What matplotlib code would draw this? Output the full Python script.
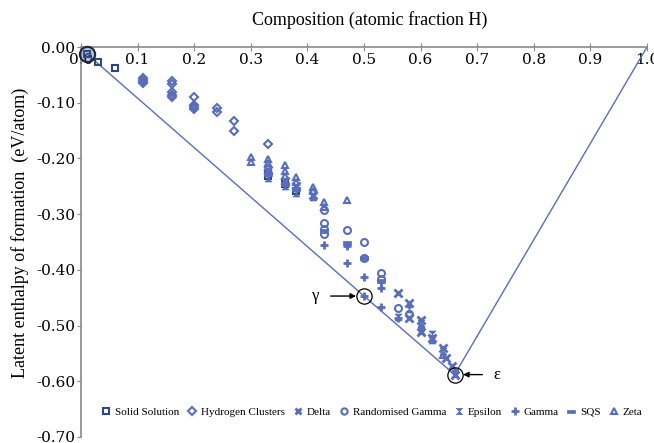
import numpy as np
import matplotlib
matplotlib.use('Agg')
import matplotlib.pyplot as plt
from matplotlib.path import Path

plt.rcParams['font.family'] = 'Liberation Serif'

# calculated formation enthalpies, grouped by structure type
solid_x = [0.01, 0.03, 0.06, 0.33, 0.33, 0.36, 0.38]
solid_y = [-0.012, -0.027, -0.038, -0.226, -0.232, -0.245, -0.258]

hydro_x = [0.11, 0.11, 0.11, 0.11, 0.16, 0.16, 0.16, 0.16, 0.16,
           0.20, 0.20, 0.20, 0.20, 0.24, 0.24, 0.27, 0.27, 0.33]
hydro_y = [-0.056, -0.059, -0.062, -0.065, -0.061, -0.066, -0.081, -0.086, -0.090,
           -0.089, -0.104, -0.108, -0.112, -0.110, -0.117, -0.132, -0.150, -0.174]

delta_x = [0.33, 0.36, 0.38, 0.41, 0.56, 0.58, 0.58, 0.60, 0.60, 0.62, 0.64, 0.645, 0.655, 0.66]
delta_y = [-0.220, -0.240, -0.250, -0.265, -0.441, -0.459, -0.487, -0.490, -0.512,
           -0.523, -0.541, -0.559, -0.573, -0.588]

rgam_x = [0.43, 0.43, 0.43, 0.43, 0.47, 0.50, 0.50, 0.53, 0.53, 0.56, 0.58]
rgam_y = [-0.292, -0.316, -0.326, -0.336, -0.328, -0.350, -0.378, -0.405, -0.416, -0.468, -0.479]

eps_x = [0.33, 0.36, 0.38, 0.41, 0.53, 0.56, 0.58, 0.60, 0.60, 0.60, 0.62, 0.62, 0.64, 0.66]
eps_y = [-0.235, -0.250, -0.262, -0.270, -0.428, -0.484, -0.470, -0.495, -0.502, -0.508,
         -0.515, -0.525, -0.545, -0.585]

gam_x = [0.43, 0.47, 0.47, 0.50, 0.50, 0.53, 0.53, 0.56]
gam_y = [-0.356, -0.357, -0.388, -0.413, -0.447, -0.432, -0.466, -0.486]

sqs_x = [0.33, 0.36, 0.38, 0.43, 0.47, 0.50, 0.53]
sqs_y = [-0.228, -0.245, -0.255, -0.330, -0.352, -0.379, -0.420]

zeta_x = [0.30, 0.30, 0.33, 0.33, 0.33, 0.36, 0.36, 0.36, 0.38, 0.38, 0.41, 0.41, 0.43, 0.43, 0.47, 0.64]
zeta_y = [-0.197, -0.207, -0.201, -0.208, -0.215, -0.211, -0.222, -0.232, -0.234, -0.242,
          -0.252, -0.258, -0.279, -0.287, -0.275, -0.552]

# convex hull through the stable phases
hull_x = [0.01, 0.50, 0.66, 1.0]
hull_y = [-0.012, -0.447, -0.588, 0.0]

blue = '#586eb9'
navy = '#2d4687'

hourglass = Path([(-1, 1), (1, 1), (-1, -1), (1, -1), (-1, 1)])
dash = Path([(-1, -0.4), (1, -0.4), (1, 0.4), (-1, 0.4), (-1, -0.4)])

fig = plt.figure(figsize=(6.54, 4.43), dpi=100)
ax = fig.add_axes([81/654, 1 - 437/443, 566/654, 390/443])

ax.plot(hull_x, hull_y, color=blue, lw=1, zorder=2)

ms = 5
ax.plot(solid_x, solid_y, 's', mfc='none', mec=navy, mew=1.5, ms=ms, label='Solid Solution', clip_on=False, zorder=3)
ax.plot(hydro_x, hydro_y, 'D', mfc='none', mec=blue, mew=1.5, ms=4, label='Hydrogen Clusters', zorder=3)
ax.plot(delta_x, delta_y, 'x', color=blue, mew=2, ms=ms + 0.5, label='Delta', zorder=3)
ax.plot(rgam_x, rgam_y, 'o', mfc='none', mec=blue, mew=1.5, ms=ms, label='Randomised Gamma', zorder=3)
ax.plot(eps_x, eps_y, marker=hourglass, ls='none', color=blue, mew=0.5, ms=ms, label='Epsilon', zorder=3)
ax.plot(gam_x, gam_y, '+', color=blue, mew=2, ms=ms + 1, label='Gamma', zorder=3)
ax.plot(sqs_x, sqs_y, marker=dash, ls='none', color=blue, mew=0.5, ms=ms + 1, label='SQS', zorder=3)
ax.plot(zeta_x, zeta_y, '^', mfc='none', mec=blue, mew=1.5, ms=ms, label='Zeta', zorder=3)

# rings around the hull vertices
ax.plot(hull_x[0], hull_y[0], 'o', mfc=(0.2, 0.3, 0.55, 0.35), mec='#1c2440', mew=1.5, ms=11, clip_on=False, zorder=4)
ax.plot(hull_x[1:3], hull_y[1:3], 'o', mfc='none', mec='black', mew=0.9, ms=11, zorder=4)

ax.annotate('γ', xy=(0.486, -0.447), xytext=(0.415, -0.447), fontsize=12, va='center', ha='center',
            arrowprops=dict(arrowstyle='-|>', color='black', lw=1, mutation_scale=8, shrinkA=6, shrinkB=0))
ax.annotate('ε', xy=(0.675, -0.588), xytext=(0.735, -0.588), fontsize=12, va='center', ha='center',
            arrowprops=dict(arrowstyle='-|>', color='black', lw=1, mutation_scale=8, shrinkA=6, shrinkB=0))

ax.set_xlim(0, 1.0)
ax.set_ylim(-0.70, 0.0)
ax.spines['bottom'].set_position(('data', 0))
ax.spines['top'].set_visible(False)
ax.spines['right'].set_visible(False)
for s in ('left', 'bottom'):
    ax.spines[s].set_color('#8a8a8a')
    ax.spines[s].set_linewidth(1.2)

xt = np.arange(0, 1.01, 0.1)
yt = np.arange(-0.7, 0.01, 0.1)
ax.set_xticks(xt)
ax.set_xticklabels(['%.1f' % v for v in xt], family='DejaVu Serif', fontsize=11)
ax.set_yticks(yt)
ax.set_yticklabels(['%.2f' % v if abs(v) > 1e-9 else '0.00' for v in yt], family='DejaVu Serif', fontsize=11)
ax.tick_params(axis='x', direction='inout', length=6, color='#8a8a8a', pad=1)
ax.tick_params(axis='y', direction='out', length=3, color='#8a8a8a', pad=1)

fig.text(0.566, 0.955, 'Composition (atomic fraction H)', ha='center', va='center', fontsize=13)
ax.set_ylabel('Latent enthalpy of formation  (eV/atom)', fontsize=13)
ax.yaxis.set_label_coords(-0.091, 0.523)

ax.legend(loc='center', bbox_to_anchor=(0.514, 0.064), ncol=8, frameon=False, fontsize=8,
          handlelength=0.8, handletextpad=0.4, columnspacing=0.75, markerscale=0.9)

fig.savefig('out.png', dpi=100)
